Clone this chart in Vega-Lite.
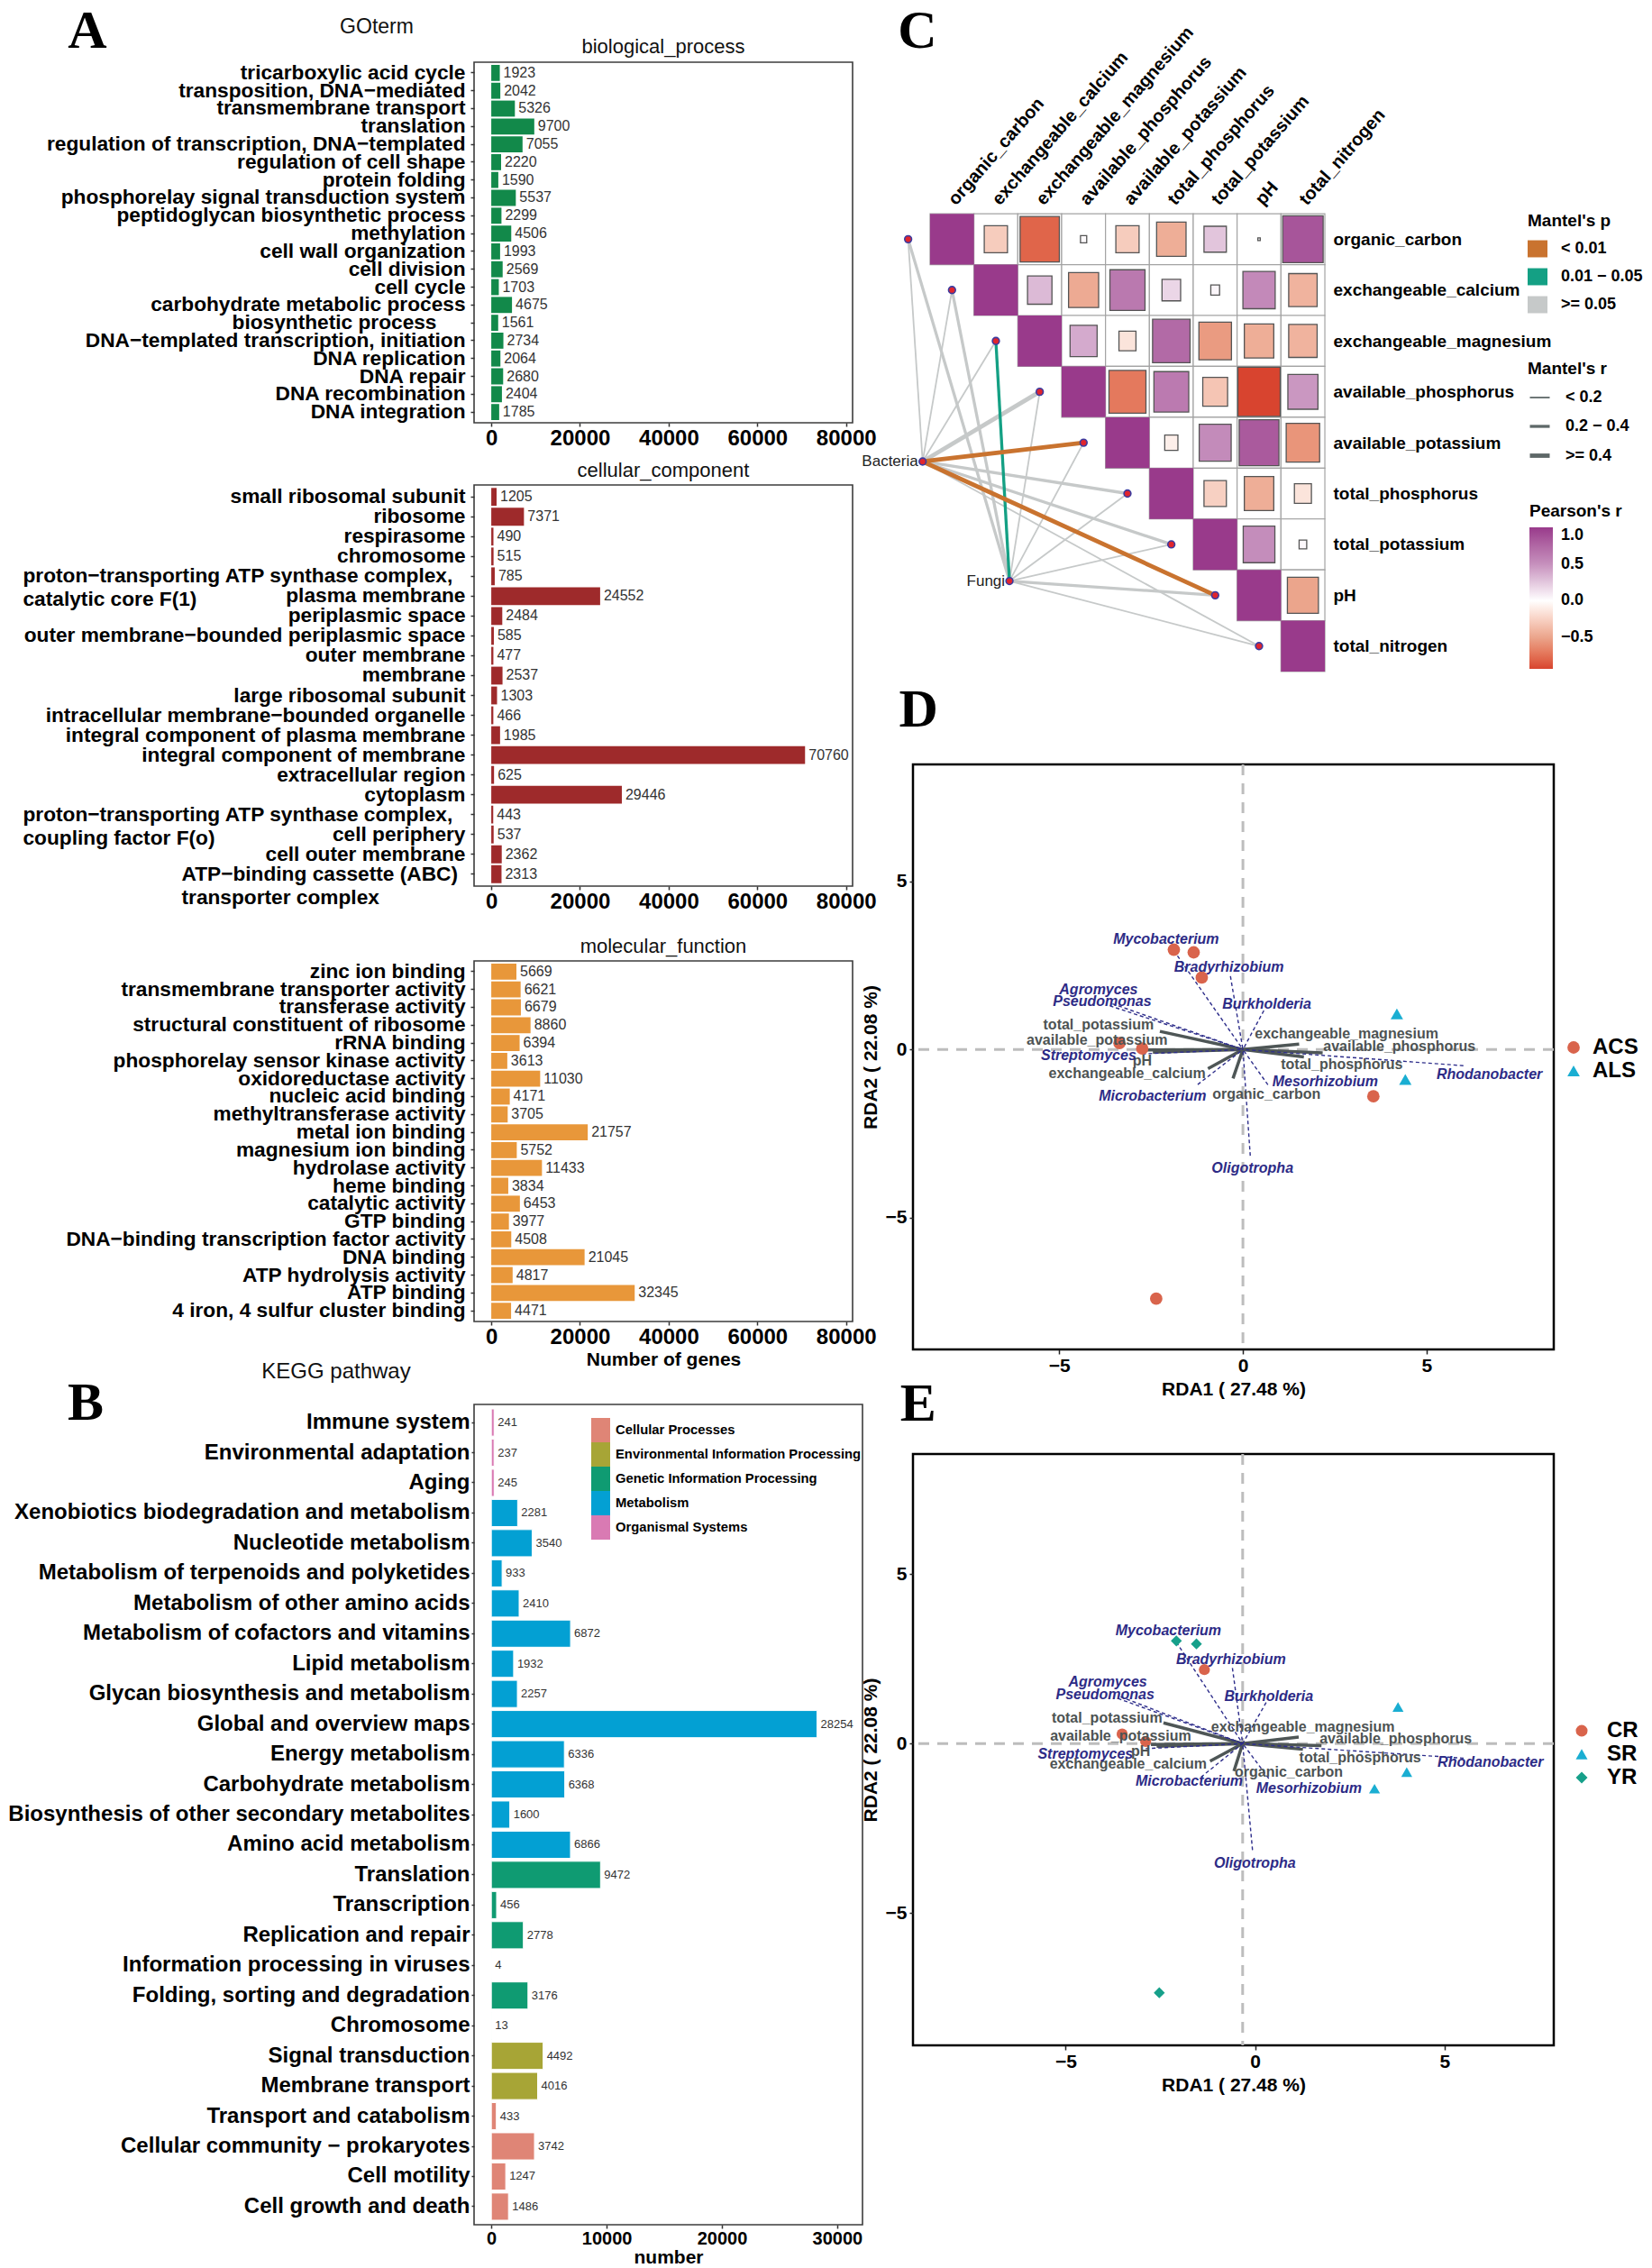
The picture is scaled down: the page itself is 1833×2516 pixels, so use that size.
{
"$schema": "https://vega.github.io/schema/vega-lite/v6.json",
"background": "white",
"padding": {"left": 8, "top": 4, "right": 4, "bottom": 4},
"config": {
  "font": "Liberation Sans",
  "view": {"stroke": "#3C3C3C", "strokeWidth": 1.6},
  "axis": {"grid": false, "domain": false, "labelColor": "#000", "titleColor": "#000", "tickColor": "#333", "labelOverlap": false, "labelBound": false},
  "legend": {"labelColor": "#000", "titleColor": "#000", "labelLimit": 1000}
},
"datasets": {
  "bp": [
    {"term": "tricarboxylic acid cycle", "n": 1923},
    {"term": "transposition, DNA−mediated", "n": 2042},
    {"term": "transmembrane transport", "n": 5326},
    {"term": "translation", "n": 9700},
    {"term": "regulation of transcription, DNA−templated", "n": 7055},
    {"term": "regulation of cell shape", "n": 2220},
    {"term": "protein folding", "n": 1590},
    {"term": "phosphorelay signal transduction system", "n": 5537},
    {"term": "peptidoglycan biosynthetic process", "n": 2299},
    {"term": "methylation", "n": 4506},
    {"term": "cell wall organization", "n": 1993},
    {"term": "cell division", "n": 2569},
    {"term": "cell cycle", "n": 1703},
    {"term": "carbohydrate metabolic process", "n": 4675},
    {"term": "biosynthetic process", "n": 1561},
    {"term": "DNA−templated transcription, initiation", "n": 2734},
    {"term": "DNA replication", "n": 2064},
    {"term": "DNA repair", "n": 2680},
    {"term": "DNA recombination", "n": 2404},
    {"term": "DNA integration", "n": 1785}
  ],
  "cc": [
    {"term": "small ribosomal subunit", "n": 1205},
    {"term": "ribosome", "n": 7371},
    {"term": "respirasome", "n": 490},
    {"term": "chromosome", "n": 515},
    {"term": "proton−transporting ATP synthase complex,\ncatalytic core F(1)", "n": 785},
    {"term": "plasma membrane", "n": 24552},
    {"term": "periplasmic space", "n": 2484},
    {"term": "outer membrane−bounded periplasmic space", "n": 585},
    {"term": "outer membrane", "n": 477},
    {"term": "membrane", "n": 2537},
    {"term": "large ribosomal subunit", "n": 1303},
    {"term": "intracellular membrane−bounded organelle", "n": 466},
    {"term": "integral component of plasma membrane", "n": 1985},
    {"term": "integral component of membrane", "n": 70760},
    {"term": "extracellular region", "n": 625},
    {"term": "cytoplasm", "n": 29446},
    {"term": "proton−transporting ATP synthase complex,\ncoupling factor F(o)", "n": 443},
    {"term": "cell periphery", "n": 537},
    {"term": "cell outer membrane", "n": 2362},
    {"term": "ATP−binding cassette (ABC)\ntransporter complex", "n": 2313}
  ],
  "mf": [
    {"term": "zinc ion binding", "n": 5669},
    {"term": "transmembrane transporter activity", "n": 6621},
    {"term": "transferase activity", "n": 6679},
    {"term": "structural constituent of ribosome", "n": 8860},
    {"term": "rRNA binding", "n": 6394},
    {"term": "phosphorelay sensor kinase activity", "n": 3613},
    {"term": "oxidoreductase activity", "n": 11030},
    {"term": "nucleic acid binding", "n": 4171},
    {"term": "methyltransferase activity", "n": 3705},
    {"term": "metal ion binding", "n": 21757},
    {"term": "magnesium ion binding", "n": 5752},
    {"term": "hydrolase activity", "n": 11433},
    {"term": "heme binding", "n": 3834},
    {"term": "catalytic activity", "n": 6453},
    {"term": "GTP binding", "n": 3977},
    {"term": "DNA−binding transcription factor activity", "n": 4508},
    {"term": "DNA binding", "n": 21045},
    {"term": "ATP hydrolysis activity", "n": 4817},
    {"term": "ATP binding", "n": 32345},
    {"term": "4 iron, 4 sulfur cluster binding", "n": 4471}
  ],
  "kegg": [
    {"term": "Immune system", "n": 241, "cat": "Organismal Systems"},
    {"term": "Environmental adaptation", "n": 237, "cat": "Organismal Systems"},
    {"term": "Aging", "n": 245, "cat": "Organismal Systems"},
    {"term": "Xenobiotics biodegradation and metabolism", "n": 2281, "cat": "Metabolism"},
    {"term": "Nucleotide metabolism", "n": 3540, "cat": "Metabolism"},
    {"term": "Metabolism of terpenoids and polyketides", "n": 933, "cat": "Metabolism"},
    {"term": "Metabolism of other amino acids", "n": 2410, "cat": "Metabolism"},
    {"term": "Metabolism of cofactors and vitamins", "n": 6872, "cat": "Metabolism"},
    {"term": "Lipid metabolism", "n": 1932, "cat": "Metabolism"},
    {"term": "Glycan biosynthesis and metabolism", "n": 2257, "cat": "Metabolism"},
    {"term": "Global and overview maps", "n": 28254, "cat": "Metabolism"},
    {"term": "Energy metabolism", "n": 6336, "cat": "Metabolism"},
    {"term": "Carbohydrate metabolism", "n": 6368, "cat": "Metabolism"},
    {"term": "Biosynthesis of other secondary metabolites", "n": 1600, "cat": "Metabolism"},
    {"term": "Amino acid metabolism", "n": 6866, "cat": "Metabolism"},
    {"term": "Translation", "n": 9472, "cat": "Genetic Information Processing"},
    {"term": "Transcription", "n": 456, "cat": "Genetic Information Processing"},
    {"term": "Replication and repair", "n": 2778, "cat": "Genetic Information Processing"},
    {"term": "Information processing in viruses", "n": 4, "cat": "Genetic Information Processing"},
    {"term": "Folding, sorting and degradation", "n": 3176, "cat": "Genetic Information Processing"},
    {"term": "Chromosome", "n": 13, "cat": "Genetic Information Processing"},
    {"term": "Signal transduction", "n": 4492, "cat": "Environmental Information Processing"},
    {"term": "Membrane transport", "n": 4016, "cat": "Environmental Information Processing"},
    {"term": "Transport and catabolism", "n": 433, "cat": "Cellular Processes"},
    {"term": "Cellular community − prokaryotes", "n": 3742, "cat": "Cellular Processes"},
    {"term": "Cell motility", "n": 1247, "cat": "Cellular Processes"},
    {"term": "Cell growth and death", "n": 1486, "cat": "Cellular Processes"}
  ],
  "cells": [
    {"ri": 0, "ci": 0, "r": 1, "absr": 1, "kind": "diag"},
    {"ri": 1, "ci": 1, "r": 1, "absr": 1, "kind": "diag"},
    {"ri": 2, "ci": 2, "r": 1, "absr": 1, "kind": "diag"},
    {"ri": 3, "ci": 3, "r": 1, "absr": 1, "kind": "diag"},
    {"ri": 4, "ci": 4, "r": 1, "absr": 1, "kind": "diag"},
    {"ri": 5, "ci": 5, "r": 1, "absr": 1, "kind": "diag"},
    {"ri": 6, "ci": 6, "r": 1, "absr": 1, "kind": "diag"},
    {"ri": 7, "ci": 7, "r": 1, "absr": 1, "kind": "diag"},
    {"ri": 8, "ci": 8, "r": 1, "absr": 1, "kind": "diag"},
    {"ri": 0, "ci": 1, "r": -0.28, "absr": 0.28, "kind": "off"},
    {"ri": 0, "ci": 2, "r": -0.80, "absr": 0.80, "kind": "off"},
    {"ri": 0, "ci": 3, "r": 0.02, "absr": 0.02, "kind": "off"},
    {"ri": 0, "ci": 4, "r": -0.28, "absr": 0.28, "kind": "off"},
    {"ri": 0, "ci": 5, "r": -0.45, "absr": 0.45, "kind": "off"},
    {"ri": 0, "ci": 6, "r": 0.26, "absr": 0.26, "kind": "off"},
    {"ri": 0, "ci": 7, "r": 0.003, "absr": 0.003, "kind": "off"},
    {"ri": 0, "ci": 8, "r": 0.85, "absr": 0.85, "kind": "off"},
    {"ri": 1, "ci": 2, "r": 0.31, "absr": 0.31, "kind": "off"},
    {"ri": 1, "ci": 3, "r": -0.47, "absr": 0.47, "kind": "off"},
    {"ri": 1, "ci": 4, "r": 0.64, "absr": 0.64, "kind": "off"},
    {"ri": 1, "ci": 5, "r": 0.18, "absr": 0.18, "kind": "off"},
    {"ri": 1, "ci": 6, "r": 0.04, "absr": 0.04, "kind": "off"},
    {"ri": 1, "ci": 7, "r": 0.54, "absr": 0.54, "kind": "off"},
    {"ri": 1, "ci": 8, "r": -0.42, "absr": 0.42, "kind": "off"},
    {"ri": 2, "ci": 3, "r": 0.38, "absr": 0.38, "kind": "off"},
    {"ri": 2, "ci": 4, "r": -0.15, "absr": 0.15, "kind": "off"},
    {"ri": 2, "ci": 5, "r": 0.73, "absr": 0.73, "kind": "off"},
    {"ri": 2, "ci": 6, "r": -0.55, "absr": 0.55, "kind": "off"},
    {"ri": 2, "ci": 7, "r": -0.45, "absr": 0.45, "kind": "off"},
    {"ri": 2, "ci": 8, "r": -0.42, "absr": 0.42, "kind": "off"},
    {"ri": 3, "ci": 4, "r": -0.71, "absr": 0.71, "kind": "off"},
    {"ri": 3, "ci": 5, "r": 0.63, "absr": 0.63, "kind": "off"},
    {"ri": 3, "ci": 6, "r": -0.32, "absr": 0.32, "kind": "off"},
    {"ri": 3, "ci": 7, "r": -0.93, "absr": 0.93, "kind": "off"},
    {"ri": 3, "ci": 8, "r": 0.47, "absr": 0.47, "kind": "off"},
    {"ri": 4, "ci": 5, "r": -0.09, "absr": 0.09, "kind": "off"},
    {"ri": 4, "ci": 6, "r": 0.53, "absr": 0.53, "kind": "off"},
    {"ri": 4, "ci": 7, "r": 0.82, "absr": 0.82, "kind": "off"},
    {"ri": 4, "ci": 8, "r": -0.58, "absr": 0.58, "kind": "off"},
    {"ri": 5, "ci": 6, "r": -0.26, "absr": 0.26, "kind": "off"},
    {"ri": 5, "ci": 7, "r": -0.45, "absr": 0.45, "kind": "off"},
    {"ri": 5, "ci": 8, "r": -0.15, "absr": 0.15, "kind": "off"},
    {"ri": 6, "ci": 7, "r": 0.52, "absr": 0.52, "kind": "off"},
    {"ri": 6, "ci": 8, "r": 0.03, "absr": 0.03, "kind": "off"},
    {"ri": 7, "ci": 8, "r": -0.50, "absr": 0.50, "kind": "off"}
  ],
  "links": [
    {"src": "Bacteria", "env": "organic_carbon", "x1": -0.67, "y1": 4.37, "x2": -1, "y2": 0, "mp": ">= 0.05", "mr": "< 0.2"},
    {"src": "Bacteria", "env": "exchangeable_calcium", "x1": -0.67, "y1": 4.37, "x2": 0, "y2": 1, "mp": ">= 0.05", "mr": "< 0.2"},
    {"src": "Bacteria", "env": "exchangeable_magnesium", "x1": -0.67, "y1": 4.37, "x2": 1, "y2": 2, "mp": ">= 0.05", "mr": "< 0.2"},
    {"src": "Bacteria", "env": "available_phosphorus", "x1": -0.67, "y1": 4.37, "x2": 2, "y2": 3, "mp": ">= 0.05", "mr": ">= 0.4"},
    {"src": "Bacteria", "env": "total_phosphorus", "x1": -0.67, "y1": 4.37, "x2": 4, "y2": 5, "mp": ">= 0.05", "mr": "0.2 − 0.4"},
    {"src": "Bacteria", "env": "total_potassium", "x1": -0.67, "y1": 4.37, "x2": 5, "y2": 6, "mp": ">= 0.05", "mr": "0.2 − 0.4"},
    {"src": "Bacteria", "env": "total_nitrogen", "x1": -0.67, "y1": 4.37, "x2": 7, "y2": 8, "mp": ">= 0.05", "mr": "< 0.2"},
    {"src": "Fungi", "env": "organic_carbon", "x1": 1.31, "y1": 6.72, "x2": -1, "y2": 0, "mp": ">= 0.05", "mr": "0.2 − 0.4"},
    {"src": "Fungi", "env": "exchangeable_calcium", "x1": 1.31, "y1": 6.72, "x2": 0, "y2": 1, "mp": ">= 0.05", "mr": "0.2 − 0.4"},
    {"src": "Fungi", "env": "available_phosphorus", "x1": 1.31, "y1": 6.72, "x2": 2, "y2": 3, "mp": ">= 0.05", "mr": "< 0.2"},
    {"src": "Fungi", "env": "available_potassium", "x1": 1.31, "y1": 6.72, "x2": 3, "y2": 4, "mp": ">= 0.05", "mr": "< 0.2"},
    {"src": "Fungi", "env": "total_phosphorus", "x1": 1.31, "y1": 6.72, "x2": 4, "y2": 5, "mp": ">= 0.05", "mr": "< 0.2"},
    {"src": "Fungi", "env": "total_potassium", "x1": 1.31, "y1": 6.72, "x2": 5, "y2": 6, "mp": ">= 0.05", "mr": "< 0.2"},
    {"src": "Fungi", "env": "pH", "x1": 1.31, "y1": 6.72, "x2": 6, "y2": 7, "mp": ">= 0.05", "mr": "0.2 − 0.4"},
    {"src": "Fungi", "env": "total_nitrogen", "x1": 1.31, "y1": 6.72, "x2": 7, "y2": 8, "mp": ">= 0.05", "mr": "< 0.2"},
    {"src": "Fungi", "env": "exchangeable_magnesium", "x1": 1.31, "y1": 6.72, "x2": 1, "y2": 2, "mp": "0.01 − 0.05", "mr": "0.2 − 0.4"},
    {"src": "Bacteria", "env": "available_potassium", "x1": -0.67, "y1": 4.37, "x2": 3, "y2": 4, "mp": "< 0.01", "mr": ">= 0.4"},
    {"src": "Bacteria", "env": "pH", "x1": -0.67, "y1": 4.37, "x2": 6, "y2": 7, "mp": "< 0.01", "mr": ">= 0.4"}
  ],
  "nodes": [
    {"name": "organic_carbon", "x": -1, "y": 0, "kind": "env"},
    {"name": "exchangeable_calcium", "x": 0, "y": 1, "kind": "env"},
    {"name": "exchangeable_magnesium", "x": 1, "y": 2, "kind": "env"},
    {"name": "available_phosphorus", "x": 2, "y": 3, "kind": "env"},
    {"name": "available_potassium", "x": 3, "y": 4, "kind": "env"},
    {"name": "total_phosphorus", "x": 4, "y": 5, "kind": "env"},
    {"name": "total_potassium", "x": 5, "y": 6, "kind": "env"},
    {"name": "pH", "x": 6, "y": 7, "kind": "env"},
    {"name": "total_nitrogen", "x": 7, "y": 8, "kind": "env"},
    {"name": "Bacteria", "x": -0.67, "y": 4.37, "kind": "src"},
    {"name": "Fungi", "x": 1.31, "y": 6.72, "kind": "src"}
  ],
  "cols": [
    {"name": "organic_carbon", "ci": 0},
    {"name": "exchangeable_calcium", "ci": 1},
    {"name": "exchangeable_magnesium", "ci": 2},
    {"name": "available_phosphorus", "ci": 3},
    {"name": "available_potassium", "ci": 4},
    {"name": "total_phosphorus", "ci": 5},
    {"name": "total_potassium", "ci": 6},
    {"name": "pH", "ci": 7},
    {"name": "total_nitrogen", "ci": 8}
  ],
  "d_samples": [
    {"g": "ACS", "x": -1.88, "y": 2.97},
    {"g": "ACS", "x": -1.34, "y": 2.89},
    {"g": "ACS", "x": -1.12, "y": 2.14},
    {"g": "ACS", "x": -3.36, "y": 0.19},
    {"g": "ACS", "x": -2.74, "y": 0.03},
    {"g": "ACS", "x": 3.55, "y": -1.39},
    {"g": "ACS", "x": -2.36, "y": -7.41},
    {"g": "ALS", "x": 4.19, "y": 1.06},
    {"g": "ALS", "x": 4.42, "y": -0.89}
  ],
  "d_arrows": [
    {"name": "total_potassium", "kind": "env", "x": -2.26, "y": 0.54},
    {"name": "available_potassium", "kind": "env", "x": -2.62, "y": -0.01},
    {"name": "pH", "kind": "env", "x": -2.45, "y": -0.08},
    {"name": "exchangeable_calcium", "kind": "env", "x": -0.95, "y": -0.57},
    {"name": "organic_carbon", "kind": "env", "x": -0.27, "y": -0.86},
    {"name": "exchangeable_magnesium", "kind": "env", "x": 1.53, "y": 0.16},
    {"name": "available_phosphorus", "kind": "env", "x": 2.17, "y": -0.10},
    {"name": "total_phosphorus", "kind": "env", "x": 1.66, "y": -0.22},
    {"name": "Mycobacterium", "kind": "genus", "x": -1.88, "y": 2.94},
    {"name": "Bradyrhizobium", "kind": "genus", "x": -0.34, "y": 2.18},
    {"name": "Agromyces", "kind": "genus", "x": -3.55, "y": 1.36},
    {"name": "Pseudomonas", "kind": "genus", "x": -3.62, "y": 1.30},
    {"name": "Burkholderia", "kind": "genus", "x": 0.57, "y": 1.16},
    {"name": "Streptomyces", "kind": "genus", "x": -2.74, "y": -0.13},
    {"name": "Microbacterium", "kind": "genus", "x": -1.23, "y": -1.04},
    {"name": "Mesorhizobium", "kind": "genus", "x": 0.68, "y": -1.05},
    {"name": "Oligotropha", "kind": "genus", "x": 0.20, "y": -3.16},
    {"name": "Rhodanobacter", "kind": "genus", "x": 6.0, "y": -0.48}
  ],
  "d_labels": [
    {"name": "total_potassium", "kind": "env", "x": -3.93, "y": 0.72},
    {"name": "available_potassium", "kind": "env", "x": -3.97, "y": 0.28},
    {"name": "pH", "kind": "env", "x": -2.74, "y": -0.34},
    {"name": "exchangeable_calcium", "kind": "env", "x": -3.15, "y": -0.71},
    {"name": "organic_carbon", "kind": "env", "x": 0.64, "y": -1.32},
    {"name": "exchangeable_magnesium", "kind": "env", "x": 2.82, "y": 0.47},
    {"name": "available_phosphorus", "kind": "env", "x": 4.26, "y": 0.10},
    {"name": "total_phosphorus", "kind": "env", "x": 2.69, "y": -0.46},
    {"name": "Mycobacterium", "kind": "genus", "x": -2.09, "y": 3.29},
    {"name": "Bradyrhizobium", "kind": "genus", "x": -0.38, "y": 2.46},
    {"name": "Agromyces", "kind": "genus", "x": -3.93, "y": 1.77},
    {"name": "Pseudomonas", "kind": "genus", "x": -3.83, "y": 1.42},
    {"name": "Burkholderia", "kind": "genus", "x": 0.65, "y": 1.35},
    {"name": "Streptomyces", "kind": "genus", "x": -4.20, "y": -0.19},
    {"name": "Microbacterium", "kind": "genus", "x": -2.46, "y": -1.39},
    {"name": "Mesorhizobium", "kind": "genus", "x": 2.24, "y": -0.95},
    {"name": "Oligotropha", "kind": "genus", "x": 0.26, "y": -3.54},
    {"name": "Rhodanobacter", "kind": "genus", "x": 6.71, "y": -0.73}
  ],
  "e_samples": [
    {"g": "CR", "x": -1.34, "y": 2.18},
    {"g": "CR", "x": -3.51, "y": 0.28},
    {"g": "CR", "x": -2.89, "y": 0.06},
    {"g": "SR", "x": 3.77, "y": 1.08},
    {"g": "SR", "x": 4.00, "y": -0.84},
    {"g": "SR", "x": 3.15, "y": -1.33},
    {"g": "YR", "x": -2.08, "y": 3.03},
    {"g": "YR", "x": -1.55, "y": 2.94},
    {"g": "YR", "x": -2.53, "y": -7.35}
  ],
  "e_arrows": [
    {"name": "total_potassium", "kind": "env", "x": -2.42, "y": 0.61},
    {"name": "available_potassium", "kind": "env", "x": -2.75, "y": -0.03},
    {"name": "pH", "kind": "env", "x": -2.6, "y": -0.08},
    {"name": "exchangeable_calcium", "kind": "env", "x": -1.19, "y": -0.52},
    {"name": "organic_carbon", "kind": "env", "x": -0.56, "y": -0.81},
    {"name": "exchangeable_magnesium", "kind": "env", "x": 1.15, "y": 0.19},
    {"name": "available_phosphorus", "kind": "env", "x": 1.75, "y": -0.06},
    {"name": "total_phosphorus", "kind": "env", "x": 1.26, "y": -0.17},
    {"name": "Mycobacterium", "kind": "genus", "x": -2.08, "y": 2.99},
    {"name": "Bradyrhizobium", "kind": "genus", "x": -0.60, "y": 2.23},
    {"name": "Agromyces", "kind": "genus", "x": -3.55, "y": 1.38},
    {"name": "Pseudomonas", "kind": "genus", "x": -3.62, "y": 1.33},
    {"name": "Burkholderia", "kind": "genus", "x": 0.29, "y": 1.21},
    {"name": "Streptomyces", "kind": "genus", "x": -2.89, "y": -0.15},
    {"name": "Microbacterium", "kind": "genus", "x": -1.43, "y": -0.99},
    {"name": "Mesorhizobium", "kind": "genus", "x": 0.36, "y": -1.03},
    {"name": "Oligotropha", "kind": "genus", "x": -0.07, "y": -3.14},
    {"name": "Rhodanobacter", "kind": "genus", "x": 5.50, "y": -0.43}
  ],
  "e_labels": [
    {"name": "total_potassium", "kind": "env", "x": -3.91, "y": 0.74},
    {"name": "available_potassium", "kind": "env", "x": -3.55, "y": 0.23},
    {"name": "pH", "kind": "env", "x": -3.02, "y": -0.22},
    {"name": "exchangeable_calcium", "kind": "env", "x": -3.35, "y": -0.61},
    {"name": "organic_carbon", "kind": "env", "x": 0.89, "y": -0.84},
    {"name": "exchangeable_magnesium", "kind": "env", "x": 1.26, "y": 0.48},
    {"name": "available_phosphorus", "kind": "env", "x": 3.71, "y": 0.13},
    {"name": "total_phosphorus", "kind": "env", "x": 2.77, "y": -0.43},
    {"name": "Mycobacterium", "kind": "genus", "x": -2.29, "y": 3.34},
    {"name": "Bradyrhizobium", "kind": "genus", "x": -0.64, "y": 2.49},
    {"name": "Agromyces", "kind": "genus", "x": -3.89, "y": 1.81},
    {"name": "Pseudomonas", "kind": "genus", "x": -3.96, "y": 1.45},
    {"name": "Burkholderia", "kind": "genus", "x": 0.36, "y": 1.39},
    {"name": "Streptomyces", "kind": "genus", "x": -4.48, "y": -0.30},
    {"name": "Microbacterium", "kind": "genus", "x": -1.74, "y": -1.12},
    {"name": "Mesorhizobium", "kind": "genus", "x": 1.42, "y": -1.33},
    {"name": "Oligotropha", "kind": "genus", "x": -0.01, "y": -3.52},
    {"name": "Rhodanobacter", "kind": "genus", "x": 6.21, "y": -0.54}
  ]
},
"hconcat": [
  {
    "vconcat": [
      {
        "width": 420, "height": 400,
        "data": {"name": "bp"},
        "layer": [
          {"mark": {"type": "bar", "color": "#12894A"},
           "encoding": {
             "y": {"field": "term", "type": "nominal", "scale": {"domain": ["tricarboxylic acid cycle", "transposition, DNA−mediated", "transmembrane transport", "translation", "regulation of transcription, DNA−templated", "regulation of cell shape", "protein folding", "phosphorelay signal transduction system", "peptidoglycan biosynthetic process", "methylation", "cell wall organization", "cell division", "cell cycle", "carbohydrate metabolic process", "biosynthetic process", "DNA−templated transcription, initiation", "DNA replication", "DNA repair", "DNA recombination", "DNA integration"], "paddingInner": 0.1, "paddingOuter": 0.15},
               "axis": {"title": null, "labelFont": "Liberation Sans", "labelFontWeight": "bold", "labelFontSize": 22.7, "tickSize": 4, "tickWidth": 1.5, "labelLimit": 1000,
                 "labelPadding": {"condition": {"test": "datum.label == 'biosynthetic process'", "value": 38}, "value": 6}}},
             "x": {"field": "n", "type": "quantitative", "scale": {"domain": [-3880, 81480], "nice": false, "zero": false},
               "axis": {"title": null, "values": [0, 20000, 40000, 60000, 80000], "format": "d", "labelFont": "Liberation Sans Narrow, Liberation Sans", "labelFontWeight": "bold", "labelFontSize": 24, "tickSize": 4, "tickWidth": 1.5, "labelPadding": 1, "labelFlush": false}},
             "x2": {"datum": 0}}},
          {"mark": {"type": "text", "align": "left", "dx": 4, "font": "Liberation Sans Narrow, Liberation Sans", "fontSize": 16, "color": "#333"},
           "encoding": {"y": {"field": "term", "type": "nominal"}, "x": {"field": "n", "type": "quantitative"}, "text": {"field": "n", "type": "quantitative", "format": "d"}}},
          {"data": {"values": [{"t": "A"}]},
           "mark": {"type": "text", "font": "Liberation Serif", "fontWeight": "bold", "fontSize": 60, "align": "center", "baseline": "alphabetic", "dy": -28, "color": "#000"},
           "encoding": {"x": {"datum": -91070, "type": "quantitative"}, "y": {"datum": "tricarboxylic acid cycle", "type": "nominal"}, "text": {"field": "t"}}},
          {"data": {"values": [{"t": "GOterm"}]},
           "mark": {"type": "text", "font": "Liberation Sans", "fontSize": 23, "align": "center", "baseline": "middle", "dy": -51, "color": "#111"},
           "encoding": {"x": {"datum": -25830, "type": "quantitative"}, "y": {"datum": "tricarboxylic acid cycle", "type": "nominal"}, "text": {"field": "t"}}},
          {"data": {"values": [{"t": "biological_process"}]},
           "mark": {"type": "text", "font": "Liberation Sans", "fontSize": 22, "align": "center", "baseline": "middle", "dy": -29, "color": "#111"},
           "encoding": {"x": {"datum": 38800, "type": "quantitative"}, "y": {"datum": "tricarboxylic acid cycle", "type": "nominal"}, "text": {"field": "t"}}}
        ]
      },
      {
        "vconcat": [
          {
            "width": 420, "height": 445,
            "title": {"text": "cellular_component", "font": "Liberation Sans", "fontSize": 22, "fontWeight": "normal", "frame": "group", "offset": 4, "color": "#111"},
            "data": {"name": "cc"},
            "layer": [
              {"mark": {"type": "bar", "color": "#9E2A2B"},
               "encoding": {
                 "y": {"field": "term", "type": "nominal", "scale": {"domain": ["small ribosomal subunit", "ribosome", "respirasome", "chromosome", "proton−transporting ATP synthase complex,\ncatalytic core F(1)", "plasma membrane", "periplasmic space", "outer membrane−bounded periplasmic space", "outer membrane", "membrane", "large ribosomal subunit", "intracellular membrane−bounded organelle", "integral component of plasma membrane", "integral component of membrane", "extracellular region", "cytoplasm", "proton−transporting ATP synthase complex,\ncoupling factor F(o)", "cell periphery", "cell outer membrane", "ATP−binding cassette (ABC)\ntransporter complex"], "paddingInner": 0.1, "paddingOuter": 0.15},
                   "axis": {"title": null, "labelFont": "Liberation Sans", "labelFontWeight": "bold", "labelFontSize": 22.7, "tickSize": 4, "tickWidth": 1.5, "labelLimit": 1000, "labelLineHeight": 26,
                     "labelAlign": {"condition": {"test": "indexof(datum.label, '\\n') >= 0", "value": "left"}, "value": "right"},
                     "labelPadding": {"condition": [{"test": "indexof(datum.label, '(ABC)') >= 0", "value": 321}, {"test": "indexof(datum.label, '\\n') >= 0", "value": 497}], "value": 6},
                     "labelExpr": "indexof(datum.label, '\\n') >= 0 ? split(datum.label, '\\n') : datum.label"}},
                 "x": {"field": "n", "type": "quantitative", "scale": {"domain": [-3880, 81480], "nice": false, "zero": false},
                   "axis": {"title": null, "values": [0, 20000, 40000, 60000, 80000], "format": "d", "labelFont": "Liberation Sans Narrow, Liberation Sans", "labelFontWeight": "bold", "labelFontSize": 24, "tickSize": 4, "tickWidth": 1.5, "labelPadding": 1, "labelFlush": false}},
                 "x2": {"datum": 0}}},
              {"mark": {"type": "text", "align": "left", "dx": 4, "font": "Liberation Sans Narrow, Liberation Sans", "fontSize": 16, "color": "#333"},
               "encoding": {"y": {"field": "term", "type": "nominal"}, "x": {"field": "n", "type": "quantitative"}, "text": {"field": "n", "type": "quantitative", "format": "d"}}}
            ]
          },
          {
            "vconcat": [
              {
                "width": 420, "height": 400,
                "title": {"text": "molecular_function", "font": "Liberation Sans", "fontSize": 22, "fontWeight": "normal", "frame": "group", "offset": 4, "color": "#111"},
                "data": {"name": "mf"},
                "layer": [
                  {"mark": {"type": "bar", "color": "#E8973A"},
                   "encoding": {
                     "y": {"field": "term", "type": "nominal", "scale": {"domain": ["zinc ion binding", "transmembrane transporter activity", "transferase activity", "structural constituent of ribosome", "rRNA binding", "phosphorelay sensor kinase activity", "oxidoreductase activity", "nucleic acid binding", "methyltransferase activity", "metal ion binding", "magnesium ion binding", "hydrolase activity", "heme binding", "catalytic activity", "GTP binding", "DNA−binding transcription factor activity", "DNA binding", "ATP hydrolysis activity", "ATP binding", "4 iron, 4 sulfur cluster binding"], "paddingInner": 0.1, "paddingOuter": 0.15},
                       "axis": {"title": null, "labelFont": "Liberation Sans", "labelFontWeight": "bold", "labelFontSize": 22.7, "tickSize": 4, "tickWidth": 1.5, "labelPadding": 6, "labelLimit": 1000}},
                     "x": {"field": "n", "type": "quantitative", "scale": {"domain": [-3880, 81480], "nice": false, "zero": false},
                       "axis": {"title": "Number of genes", "values": [0, 20000, 40000, 60000, 80000], "format": "d", "labelFont": "Liberation Sans Narrow, Liberation Sans", "labelFontWeight": "bold", "labelFontSize": 24, "tickSize": 4, "tickWidth": 1.5, "labelPadding": 1, "labelFlush": false, "titleFont": "Liberation Sans Narrow, Liberation Sans", "titleFontSize": 21, "titleFontWeight": "bold", "titlePadding": 2}},
                     "x2": {"datum": 0}}},
                  {"mark": {"type": "text", "align": "left", "dx": 4, "font": "Liberation Sans Narrow, Liberation Sans", "fontSize": 16, "color": "#333"},
                   "encoding": {"y": {"field": "term", "type": "nominal"}, "x": {"field": "n", "type": "quantitative"}, "text": {"field": "n", "type": "quantitative", "format": "d"}}}
                ]
              },
              {
                "width": 431, "height": 910,
                "data": {"name": "kegg"},
                "layer": [
                  {"mark": {"type": "bar", "stroke": "white", "strokeWidth": 1},
                   "encoding": {
                     "y": {"field": "term", "type": "nominal", "scale": {"domain": ["Immune system", "Environmental adaptation", "Aging", "Xenobiotics biodegradation and metabolism", "Nucleotide metabolism", "Metabolism of terpenoids and polyketides", "Metabolism of other amino acids", "Metabolism of cofactors and vitamins", "Lipid metabolism", "Glycan biosynthesis and metabolism", "Global and overview maps", "Energy metabolism", "Carbohydrate metabolism", "Biosynthesis of other secondary metabolites", "Amino acid metabolism", "Translation", "Transcription", "Replication and repair", "Information processing in viruses", "Folding, sorting and degradation", "Chromosome", "Signal transduction", "Membrane transport", "Transport and catabolism", "Cellular community − prokaryotes", "Cell motility", "Cell growth and death"], "paddingInner": 0.1, "paddingOuter": 0.15},
                       "axis": {"title": null, "labelFont": "Liberation Sans", "labelFontWeight": "bold", "labelFontSize": 24, "tickSize": 3, "tickWidth": 1.5, "labelPadding": 2, "labelLimit": 1000}},
                     "x": {"field": "n", "type": "quantitative", "scale": {"domain": [-1500, 32200], "nice": false, "zero": false},
                       "axis": {"title": "number", "values": [0, 10000, 20000, 30000], "format": "d", "labelFont": "Liberation Sans Narrow, Liberation Sans", "labelFontWeight": "bold", "labelFontSize": 20, "tickSize": 4, "tickWidth": 1.5, "labelPadding": 1, "labelFlush": false, "titleFont": "Liberation Sans Narrow, Liberation Sans", "titleFontSize": 21, "titleFontWeight": "bold", "titlePadding": 0}},
                     "x2": {"datum": 0},
                     "fill": {"field": "cat", "type": "nominal", "scale": {"domain": ["Cellular Processes", "Environmental Information Processing", "Genetic Information Processing", "Metabolism", "Organismal Systems"], "range": ["#DF8576", "#A7A536", "#0F9B72", "#03A0D3", "#D97AB3"]},
                       "legend": {"title": null, "orient": "none", "legendX": 127, "legendY": 15, "symbolType": "M-0.78,-1H0.78V1H-0.78Z", "symbolSize": 729, "symbolStrokeWidth": 0, "rowPadding": 0, "labelFont": "Liberation Sans", "labelFontWeight": "bold", "labelFontSize": 14.8, "labelOffset": 3, "labelLimit": 1000, "padding": 0}}}},
                  {"mark": {"type": "text", "align": "left", "dx": 4, "font": "Liberation Sans Narrow, Liberation Sans", "fontSize": 13, "color": "#333"},
                   "encoding": {"y": {"field": "term", "type": "nominal"}, "x": {"field": "n", "type": "quantitative"}, "text": {"field": "n", "type": "quantitative", "format": "d"}}},
                  {"data": {"values": [{"t": "B"}]},
                   "mark": {"type": "text", "font": "Liberation Serif", "fontWeight": "bold", "fontSize": 60, "align": "center", "baseline": "alphabetic", "dy": -3, "color": "#000"},
                   "encoding": {"x": {"datum": -35200, "type": "quantitative"}, "y": {"datum": "Immune system", "type": "nominal"}, "text": {"field": "t"}}},
                  {"data": {"values": [{"t": "KEGG pathway"}]},
                   "mark": {"type": "text", "font": "Liberation Sans", "fontSize": 24, "align": "center", "baseline": "middle", "dy": -56, "color": "#111"},
                   "encoding": {"x": {"datum": -13463, "type": "quantitative"}, "y": {"datum": "Immune system", "type": "nominal"}, "text": {"field": "t"}}}
                ]
              }
            ],
            "spacing": 92, "bounds": "flush",
            "resolve": {"scale": {"color": "independent", "fill": "independent", "shape": "independent", "stroke": "independent", "strokeWidth": "independent", "size": "independent"}}
          }
        ],
        "spacing": 83, "bounds": "flush",
        "resolve": {"scale": {"color": "independent", "fill": "independent", "shape": "independent", "stroke": "independent", "strokeWidth": "independent", "size": "independent"}}
      }
    ],
    "spacing": 69, "bounds": "flush",
    "resolve": {"scale": {"color": "independent", "fill": "independent", "shape": "independent", "stroke": "independent", "strokeWidth": "independent", "size": "independent"}}
  },
  {
    "vconcat": [
      {
        "width": 457, "height": 676,
        "view": {"stroke": null},
        "layer": [
          {"data": {"name": "links"},
           "mark": {"type": "rule", "strokeCap": "butt"},
           "encoding": {
             "x": {"field": "x1", "type": "quantitative", "axis": null},
             "y": {"field": "y1", "type": "quantitative"},
             "x2": {"field": "x2"}, "y2": {"field": "y2"},
             "stroke": {"field": "mp", "type": "nominal", "scale": {"domain": ["< 0.01", "0.01 − 0.05", ">= 0.05"], "range": ["#C9732F", "#14A084", "#C6C9C9"]}},
             "strokeWidth": {"field": "mr", "type": "ordinal", "scale": {"domain": ["< 0.2", "0.2 − 0.4", ">= 0.4"], "range": [1.8, 4.8, 9]},
               "legend": {"title": "Mantel's r", "orient": "none", "legendX": 682, "legendY": 331, "symbolType": "stroke", "symbolSize": 484, "symbolStrokeColor": "#5E6868", "labelFont": "Liberation Sans", "labelFontWeight": "bold", "labelFontSize": 18, "titleFont": "Liberation Sans", "titleFontSize": 19, "titleFontWeight": "bold", "rowPadding": 10, "labelOffset": 15, "titlePadding": 10, "padding": 0}}}},
          {"data": {"name": "links"},
           "mark": {"type": "point", "shape": "square", "filled": true, "opacity": 0, "size": 10},
           "encoding": {
             "x": {"field": "x1", "type": "quantitative", "axis": null},
             "y": {"field": "y1", "type": "quantitative"},
             "color": {"field": "mp", "type": "nominal", "scale": {"domain": ["< 0.01", "0.01 − 0.05", ">= 0.05"], "range": ["#C9732F", "#14A084", "#C6C9C9"]},
               "legend": {"title": "Mantel's p", "orient": "none", "legendX": 682, "legendY": 167, "symbolType": "M-1,-0.86H1V0.86H-1Z", "symbolSize": 484, "symbolOpacity": 1, "symbolStrokeWidth": 0, "labelFont": "Liberation Sans", "labelFontWeight": "bold", "labelFontSize": 18, "titleFont": "Liberation Sans", "titleFontSize": 19, "titleFontWeight": "bold", "rowPadding": 10, "labelOffset": 15, "titlePadding": 10, "padding": 0}}}},
          {"data": {"name": "cells"},
           "mark": {"type": "point", "shape": "M-1,-1.158H1V1.158H-1Z", "filled": true, "fill": "#FFFFFF", "stroke": "#A3A3A3", "strokeWidth": 1.2, "size": 2372, "opacity": 1},
           "encoding": {
             "x": {"field": "ci", "type": "quantitative", "scale": {"domain": [-0.89, 8.5], "nice": false, "zero": false}, "axis": null},
             "y": {"field": "ri", "type": "quantitative", "scale": {"domain": [-3.48, 8.5], "nice": false, "zero": false, "reverse": true},
               "axis": {"orient": "right", "title": null, "values": [0, 1, 2, 3, 4, 5, 6, 7, 8], "ticks": false, "labelPadding": 9, "labelFont": "Liberation Sans", "labelFontWeight": "bold", "labelFontSize": 19, "labelLimit": 1000,
                 "labelExpr": "['organic_carbon','exchangeable_calcium','exchangeable_magnesium','available_phosphorus','available_potassium','total_phosphorus','total_potassium','pH','total_nitrogen'][datum.value]"}}}},
          {"data": {"name": "cells"},
           "transform": [{"filter": "datum.kind == 'diag'"}],
           "mark": {"type": "point", "shape": "M-1,-1.158H1V1.158H-1Z", "filled": true, "size": 2372, "opacity": 1, "strokeWidth": 0},
           "encoding": {
             "x": {"field": "ci", "type": "quantitative", "axis": null},
             "y": {"field": "ri", "type": "quantitative"},
             "fill": {"field": "r", "type": "quantitative"}}},
          {"data": {"name": "cells"},
           "transform": [{"filter": "datum.kind == 'off'"}],
           "mark": {"type": "point", "shape": "M-1,-1.158H1V1.158H-1Z", "filled": true, "opacity": 1, "stroke": "#555555", "strokeWidth": 1.3},
           "encoding": {
             "x": {"field": "ci", "type": "quantitative", "axis": null},
             "y": {"field": "ri", "type": "quantitative"},
             "size": {"field": "absr", "type": "quantitative", "scale": {"domain": [0, 1], "range": [0, 2372]}, "legend": null},
             "fill": {"field": "r", "type": "quantitative", "scale": {"domain": [-0.93, -0.5, 0, 0.5, 1], "range": ["#D8442F", "#EBA58C", "#FFFFFF", "#C690BD", "#993A8B"], "interpolate": "lab"},
               "legend": {"title": "Pearson's r", "orient": "none", "legendX": 684, "legendY": 489, "direction": "vertical", "gradientLength": 157, "gradientThickness": 26, "gradientStrokeWidth": 0, "values": [-0.5, 0, 0.5, 1], "format": ".1f", "labelFont": "Liberation Sans", "labelFontWeight": "bold", "labelFontSize": 18, "labelOffset": 9, "titleFont": "Liberation Sans", "titleFontSize": 19, "titleFontWeight": "bold", "titlePadding": 8, "padding": 0}}}},
          {"data": {"name": "nodes"},
           "mark": {"type": "point", "shape": "circle", "filled": true, "fill": "#E0252E", "stroke": "#3B3BA0", "strokeWidth": 1.6, "size": 60, "opacity": 1},
           "encoding": {"x": {"field": "x", "type": "quantitative", "axis": null}, "y": {"field": "y", "type": "quantitative"}}},
          {"data": {"name": "nodes"},
           "transform": [{"filter": "datum.kind == 'src'"}],
           "mark": {"type": "text", "align": "right", "baseline": "middle", "dx": -5, "font": "Liberation Sans", "fontSize": 17, "color": "#222"},
           "encoding": {"x": {"field": "x", "type": "quantitative", "axis": null}, "y": {"field": "y", "type": "quantitative"}, "text": {"field": "name"}}},
          {"data": {"name": "cols"},
           "mark": {"type": "text", "align": "left", "baseline": "middle", "angle": -49, "font": "Liberation Sans", "fontWeight": "bold", "fontSize": 20, "color": "#000"},
           "encoding": {"x": {"field": "ci", "type": "quantitative", "axis": null}, "y": {"datum": -0.72, "type": "quantitative"}, "text": {"field": "name"}}},
          {"data": {"values": [{"t": "C"}]},
           "mark": {"type": "text", "font": "Liberation Serif", "fontWeight": "bold", "fontSize": 60, "align": "center", "baseline": "alphabetic", "color": "#000"},
           "encoding": {"x": {"datum": -0.79, "type": "quantitative", "axis": null}, "y": {"datum": -3.76, "type": "quantitative"}, "text": {"field": "t"}}}
        ]
      },
      {
        "vconcat": [
          {
            "width": 711, "height": 649,
            "view": {"stroke": "#000", "strokeWidth": 2.5},
            "layer": [
              {"data": {"values": [{}]}, "mark": {"type": "rule", "color": "#BDBDBD", "strokeWidth": 3, "strokeDash": [12, 9]},
               "encoding": {"x": {"datum": 0, "type": "quantitative"}}},
              {"data": {"values": [{}]}, "mark": {"type": "rule", "color": "#BDBDBD", "strokeWidth": 3, "strokeDash": [12, 9]},
               "encoding": {"y": {"datum": 0, "type": "quantitative"}}},
              {"data": {"name": "d_arrows"}, "transform": [{"filter": "datum.kind == 'env'"}],
               "mark": {"type": "rule", "color": "#4E5656", "strokeWidth": 3.5},
               "encoding": {"x": {"field": "x", "type": "quantitative"}, "y": {"field": "y", "type": "quantitative"}, "x2": {"datum": 0}, "y2": {"datum": 0}}},
              {"data": {"name": "d_arrows"}, "transform": [{"filter": "datum.kind == 'genus'"}],
               "mark": {"type": "rule", "color": "#2E2E8B", "strokeWidth": 1.4, "strokeDash": [4, 3]},
               "encoding": {"x": {"field": "x", "type": "quantitative"}, "y": {"field": "y", "type": "quantitative"}, "x2": {"datum": 0}, "y2": {"datum": 0}}},
              {"data": {"name": "d_samples"},
               "mark": {"type": "point", "filled": true, "opacity": 1, "size": 190, "strokeWidth": 0},
               "encoding": {
                 "x": {"field": "x", "type": "quantitative", "scale": {"domain": [-8.98, 8.46], "nice": false, "zero": false},
                   "axis": {"title": "RDA1 ( 27.48 %)", "values": [-5, 0, 5], "labelFont": "Liberation Sans", "labelFontWeight": "bold", "labelFontSize": 21, "tickSize": 5, "tickWidth": 1.5, "tickColor": "#222", "labelPadding": 2, "titleFont": "Liberation Sans", "titleFontSize": 21, "titleFontWeight": "bold", "titlePadding": 5}},
                 "y": {"field": "y", "type": "quantitative", "scale": {"domain": [-8.92, 8.48], "nice": false, "zero": false},
                   "axis": {"title": "RDA2 ( 22.08 %)", "values": [-5, 0, 5], "labelFont": "Liberation Sans", "labelFontWeight": "bold", "labelFontSize": 21, "tickSize": 4, "tickWidth": 1.5, "tickColor": "#222", "labelPadding": 3, "titleFont": "Liberation Sans", "titleFontSize": 21, "titleFontWeight": "bold", "titlePadding": 6}},
                 "color": {"field": "g", "type": "nominal", "scale": {"domain": ["ACS", "ALS"], "range": ["#D9644C", "#1AAED2"]},
                   "legend": {"title": null, "orient": "none", "legendX": 721, "legendY": 302, "labelFont": "Liberation Sans", "labelFontWeight": "bold", "labelFontSize": 24, "symbolSize": 190, "symbolStrokeWidth": 0, "rowPadding": 2, "labelOffset": 9, "padding": 0}},
                 "shape": {"field": "g", "type": "nominal", "scale": {"domain": ["ACS", "ALS"], "range": ["circle", "triangle-up"]},
                   "legend": {"title": null, "orient": "none", "legendX": 721, "legendY": 302, "labelFont": "Liberation Sans", "labelFontWeight": "bold", "labelFontSize": 24, "symbolSize": 190, "symbolStrokeWidth": 0, "rowPadding": 2, "labelOffset": 9, "padding": 0}}}},
              {"data": {"name": "d_labels"}, "transform": [{"filter": "datum.kind == 'env'"}],
               "mark": {"type": "text", "font": "Liberation Sans", "fontWeight": "bold", "fontSize": 16, "color": "#4D5353", "align": "center", "baseline": "middle"},
               "encoding": {"x": {"field": "x", "type": "quantitative"}, "y": {"field": "y", "type": "quantitative"}, "text": {"field": "name"}}},
              {"data": {"name": "d_labels"}, "transform": [{"filter": "datum.kind == 'genus'"}],
               "mark": {"type": "text", "font": "Liberation Sans", "fontWeight": "bold", "fontStyle": "italic", "fontSize": 16, "color": "#2D2B86", "align": "center", "baseline": "middle"},
               "encoding": {"x": {"field": "x", "type": "quantitative"}, "y": {"field": "y", "type": "quantitative"}, "text": {"field": "name"}}},
              {"data": {"values": [{"t": "D"}]},
               "mark": {"type": "text", "font": "Liberation Serif", "fontWeight": "bold", "fontSize": 60, "align": "center", "baseline": "alphabetic", "color": "#000"},
               "encoding": {"x": {"datum": -8.83, "type": "quantitative"}, "y": {"datum": 9.61, "type": "quantitative"}, "text": {"field": "t"}}}
            ]
          },
          {
            "width": 711, "height": 656,
            "view": {"stroke": "#000", "strokeWidth": 2.5},
            "layer": [
              {"data": {"values": [{}]}, "mark": {"type": "rule", "color": "#BDBDBD", "strokeWidth": 3, "strokeDash": [12, 9]},
               "encoding": {"x": {"datum": -0.33, "type": "quantitative"}}},
              {"data": {"values": [{}]}, "mark": {"type": "rule", "color": "#BDBDBD", "strokeWidth": 3, "strokeDash": [12, 9]},
               "encoding": {"y": {"datum": 0, "type": "quantitative"}}},
              {"data": {"name": "e_arrows"}, "transform": [{"filter": "datum.kind == 'env'"}],
               "mark": {"type": "rule", "color": "#4E5656", "strokeWidth": 3.5},
               "encoding": {"x": {"field": "x", "type": "quantitative"}, "y": {"field": "y", "type": "quantitative"}, "x2": {"datum": -0.33}, "y2": {"datum": 0}}},
              {"data": {"name": "e_arrows"}, "transform": [{"filter": "datum.kind == 'genus'"}],
               "mark": {"type": "rule", "color": "#2E2E8B", "strokeWidth": 1.4, "strokeDash": [4, 3]},
               "encoding": {"x": {"field": "x", "type": "quantitative"}, "y": {"field": "y", "type": "quantitative"}, "x2": {"datum": -0.33}, "y2": {"datum": 0}}},
              {"data": {"name": "e_samples"},
               "mark": {"type": "point", "filled": true, "opacity": 1, "size": 150, "strokeWidth": 0},
               "encoding": {
                 "x": {"field": "x", "type": "quantitative", "scale": {"domain": [-9.03, 7.88], "nice": false, "zero": false},
                   "axis": {"title": "RDA1 ( 27.48 %)", "values": [-5, 0, 5], "labelFont": "Liberation Sans", "labelFontWeight": "bold", "labelFontSize": 21, "tickSize": 5, "tickWidth": 1.5, "tickColor": "#222", "labelPadding": 2, "titleFont": "Liberation Sans", "titleFontSize": 21, "titleFontWeight": "bold", "titlePadding": 5}},
                 "y": {"field": "y", "type": "quantitative", "scale": {"domain": [-8.90, 8.54], "nice": false, "zero": false},
                   "axis": {"title": "RDA2 ( 22.08 %)", "values": [-5, 0, 5], "labelFont": "Liberation Sans", "labelFontWeight": "bold", "labelFontSize": 21, "tickSize": 4, "tickWidth": 1.5, "tickColor": "#222", "labelPadding": 3, "titleFont": "Liberation Sans", "titleFontSize": 21, "titleFontWeight": "bold", "titlePadding": 6}},
                 "color": {"field": "g", "type": "nominal", "scale": {"domain": ["CR", "SR", "YR"], "range": ["#D9644C", "#1AAED2", "#16A08A"]},
                   "legend": {"title": null, "orient": "none", "legendX": 730, "legendY": 295, "labelFont": "Liberation Sans", "labelFontWeight": "bold", "labelFontSize": 24, "symbolSize": 170, "symbolStrokeWidth": 0, "rowPadding": 2, "labelOffset": 16, "padding": 0}},
                 "shape": {"field": "g", "type": "nominal", "scale": {"domain": ["CR", "SR", "YR"], "range": ["circle", "triangle-up", "diamond"]},
                   "legend": {"title": null, "orient": "none", "legendX": 730, "legendY": 295, "labelFont": "Liberation Sans", "labelFontWeight": "bold", "labelFontSize": 24, "symbolSize": 170, "symbolStrokeWidth": 0, "rowPadding": 2, "labelOffset": 16, "padding": 0}}}},
              {"data": {"name": "e_labels"}, "transform": [{"filter": "datum.kind == 'env'"}],
               "mark": {"type": "text", "font": "Liberation Sans", "fontWeight": "bold", "fontSize": 16, "color": "#4D5353", "align": "center", "baseline": "middle"},
               "encoding": {"x": {"field": "x", "type": "quantitative"}, "y": {"field": "y", "type": "quantitative"}, "text": {"field": "name"}}},
              {"data": {"name": "e_labels"}, "transform": [{"filter": "datum.kind == 'genus'"}],
               "mark": {"type": "text", "font": "Liberation Sans", "fontWeight": "bold", "fontStyle": "italic", "fontSize": 16, "color": "#2D2B86", "align": "center", "baseline": "middle"},
               "encoding": {"x": {"field": "x", "type": "quantitative"}, "y": {"field": "y", "type": "quantitative"}, "text": {"field": "name"}}},
              {"data": {"values": [{"t": "E"}]},
               "mark": {"type": "text", "font": "Liberation Serif", "fontWeight": "bold", "fontSize": 60, "align": "center", "baseline": "alphabetic", "color": "#000"},
               "encoding": {"x": {"datum": -8.89, "type": "quantitative"}, "y": {"datum": 9.52, "type": "quantitative"}, "text": {"field": "t"}}}
            ]
          }
        ],
        "spacing": 116, "bounds": "flush",
        "resolve": {"scale": {"color": "independent", "fill": "independent", "shape": "independent", "stroke": "independent", "strokeWidth": "independent", "size": "independent"}}
      }
    ],
    "spacing": 103, "bounds": "flush",
    "resolve": {"scale": {"color": "independent", "fill": "independent", "shape": "independent", "stroke": "independent", "strokeWidth": "independent", "size": "independent"}}
  }
],
"spacing": 487,
"bounds": "flush",
"resolve": {"scale": {"color": "independent", "fill": "independent", "shape": "independent", "stroke": "independent", "strokeWidth": "independent", "size": "independent"}}
}
